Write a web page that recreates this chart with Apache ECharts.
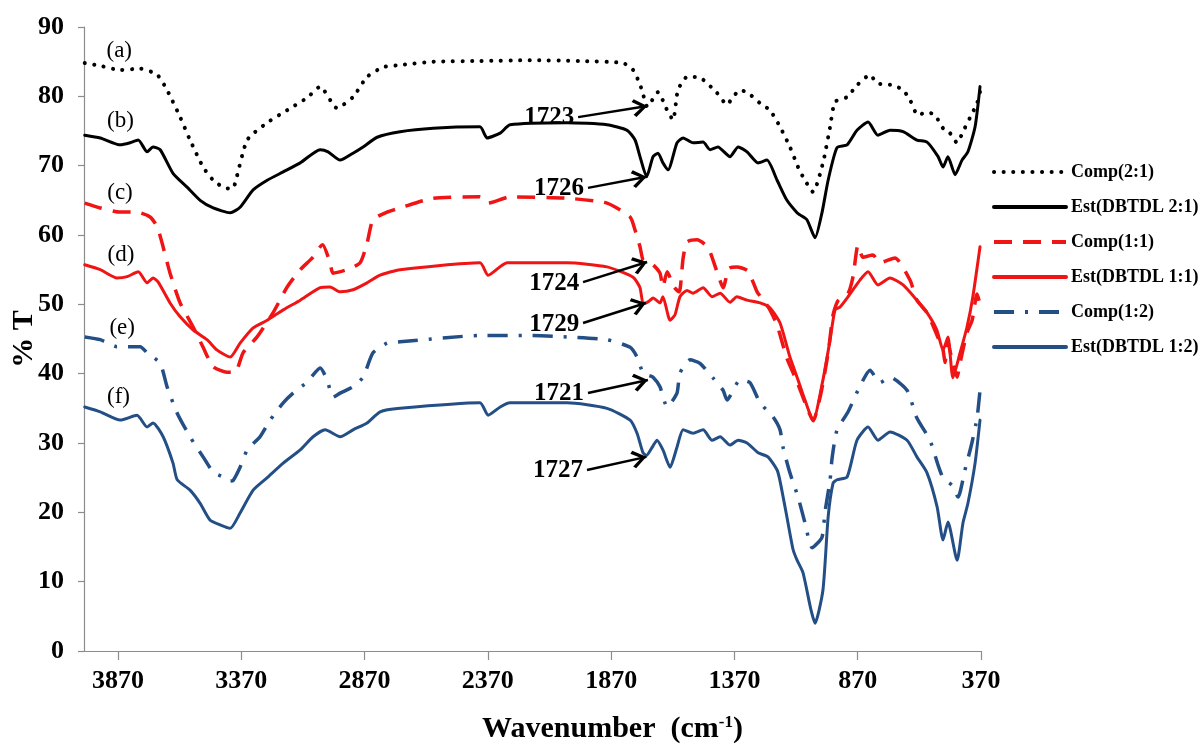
<!DOCTYPE html>
<html>
<head>
<meta charset="utf-8">
<script src="https://cdn.jsdelivr.net/npm/echarts@6/dist/echarts.min.js"></script>
<style>
  html, body { margin: 0; padding: 0; background: #ffffff; }
  #chart { width: 1198px; height: 745px; }
</style>
</head>
<body>
<div id="chart"></div>
<script>
// FT-IR spectra: wavenumber (cm-1) vs. transmittance (%T)

const wavenumberTicks = [370, 870, 1370, 1870, 2370, 2870, 3370, 3870];

const seriesNames = ['Comp(2:1)', 'Est(DBTDL 2:1)', 'Comp(1:1)', 'Est(DBTDL 1:1)', 'Comp(1:2)', 'Est(DBTDL 1:2)'];
const curveTags = ['(a)', '(b)', '(c)', '(d)', '(e)', '(f)'];

// [wavenumber, %T]
const compA = [
  [4005,84.8],[3942,84.4],[3861,83.8],[3780,84.0],[3711,83.1],[3671,80.9],[3618,77.0],[3578,73.7],
  [3525,69.8],[3484,67.9],[3440,66.8],[3415,66.7],[3400,66.9],[3346,73.7],[3265,76.2],[3184,78.0],
  [3103,79.8],[3050,81.4],[2982,78.3],[2917,79.9],[2860,82.8],[2795,84.2],[2726,84.5],[2590,85.0],
  [2400,85.1],[2200,85.2],[2000,85.1],[1822,84.8],[1781,83.8],[1761,82.4],[1745,80.9],[1723,78.5],
  [1680,80.6],[1643,78.0],[1619,76.6],[1599,80.9],[1562,82.8],[1522,82.8],[1497,82.4],[1441,80.5],
  [1400,78.8],[1376,79.9],[1347,80.9],[1315,80.5],[1266,79.0],[1226,78.0],[1185,75.6],[1145,72.7],
  [1112,69.8],[1092,68.4],[1051,66.2],[1011,70.4],[982,75.6],[962,79.2],[913,79.9],[873,81.6],
  [820,83.1],[792,81.9],[727,81.6],[686,80.9],[658,79.5],[626,77.3],[589,77.7],[557,77.3],
  [524,75.4],[496,74.7],[467,73.3],[443,74.9],[415,76.9],[386,79.0],[372,81.0]
];
const estA = [
  [4005,74.4],[3942,74.0],[3861,73.0],[3821,73.3],[3788,73.7],[3752,72.0],[3728,72.7],[3699,72.3],
  [3647,68.9],[3590,66.9],[3537,65.0],[3484,63.9],[3415,63.2],[3375,64.0],[3322,66.5],[3265,67.9],
  [3200,69.1],[3131,70.4],[3050,72.3],[3018,72.0],[2969,70.8],[2917,71.8],[2876,72.7],[2819,74.1],
  [2726,74.9],[2592,75.4],[2402,75.6],[2373,74.0],[2320,74.7],[2280,75.9],[2049,76.2],[1887,75.9],
  [1805,75.1],[1773,73.7],[1753,71.3],[1726,68.4],[1700,71.3],[1680,71.8],[1660,70.4],[1639,69.4],
  [1603,73.3],[1578,74.0],[1538,73.3],[1497,73.4],[1469,72.3],[1437,72.7],[1388,71.3],[1355,72.7],
  [1319,72.0],[1274,70.4],[1238,70.8],[1197,67.9],[1157,65.0],[1116,63.2],[1104,62.9],[1076,62.2],
  [1043,59.6],[1015,63.2],[990,67.9],[954,72.6],[913,73.0],[873,75.1],[828,76.3],[788,74.4],
  [739,75.1],[686,74.9],[630,73.7],[589,73.4],[544,71.3],[524,69.8],[504,71.3],[475,68.7],
  [447,70.8],[423,72.0],[394,75.6],[374,81.4]
];
const compB = [
  [4005,64.6],[3942,63.9],[3861,63.3],[3793,63.3],[3740,62.6],[3711,61.2],[3691,58.8],[3659,54.5],
  [3618,50.2],[3565,46.7],[3525,43.8],[3484,41.0],[3428,40.2],[3395,40.2],[3363,43.0],[3306,45.3],
  [3241,48.8],[3184,52.5],[3131,55.0],[3079,56.8],[3050,58.3],[3040,58.6],[3010,56.0],[2998,54.5],
  [2941,55.0],[2888,56.0],[2860,58.8],[2836,62.2],[2779,63.3],[2726,63.9],[2592,65.3],[2402,65.5],
  [2369,64.6],[2280,65.5],[2049,65.3],[1887,64.6],[1793,62.6],[1773,60.7],[1753,58.3],[1741,56.4],
  [1724,56.1],[1700,55.7],[1672,54.5],[1660,52.5],[1643,54.7],[1615,52.5],[1594,51.8],[1578,56.7],
  [1562,59.0],[1522,59.3],[1477,58.2],[1437,54.3],[1416,52.4],[1392,55.2],[1360,55.4],[1315,54.8],
  [1278,51.8],[1246,50.3],[1226,49.2],[1197,47.0],[1157,42.2],[1116,38.8],[1080,35.5],[1051,33.2],
  [1020,37.0],[990,43.0],[970,48.5],[950,50.5],[909,51.6],[889,54.0],[869,58.5],[849,56.8],
  [808,57.1],[780,56.0],[719,56.7],[658,53.5],[630,50.6],[589,48.8],[548,45.5],[524,43.4],
  [516,41.6],[504,44.5],[488,42.0],[467,39.5],[455,41.5],[427,45.9],[406,47.7],[386,51.5],[374,50.0]
];
const estB = [
  [4005,55.7],[3942,55.0],[3874,53.8],[3833,54.0],[3788,54.7],[3752,53.1],[3728,53.8],[3707,53.2],
  [3659,50.2],[3618,48.2],[3565,46.3],[3509,44.9],[3468,43.4],[3415,42.4],[3375,44.4],[3322,46.6],
  [3265,47.7],[3200,49.2],[3131,50.6],[3050,52.4],[3010,52.5],[2969,51.8],[2917,52.1],[2860,53.1],
  [2807,54.2],[2726,55.0],[2402,56.0],[2369,54.2],[2292,56.0],[2049,56.0],[1887,55.4],[1781,53.9],
  [1753,52.4],[1741,50.2],[1729,50.2],[1715,50.5],[1700,50.9],[1672,50.2],[1660,51.1],[1631,47.7],
  [1611,48.5],[1591,51.1],[1562,52.0],[1538,51.6],[1497,52.4],[1461,51.1],[1428,51.6],[1388,50.3],
  [1360,51.1],[1319,50.6],[1266,50.2],[1226,49.5],[1185,47.3],[1145,42.4],[1112,39.1],[1084,36.2],
  [1051,33.2],[1011,39.1],[982,44.9],[962,49.2],[942,49.6],[909,51.1],[861,53.5],[828,54.7],
  [788,52.8],[739,53.8],[686,52.8],[630,50.6],[589,48.8],[549,46.3],[524,43.4],[504,45.3],
  [484,39.4],[455,43.0],[427,46.7],[403,51.1],[374,58.3]
];
const compC = [
  [4005,45.3],[3942,44.9],[3874,43.9],[3780,43.9],[3752,43.0],[3699,41.5],[3671,38.1],[3630,34.3],
  [3578,30.9],[3525,28.0],[3484,25.8],[3444,25.1],[3415,24.5],[3403,24.6],[3375,26.5],[3346,29.0],
  [3294,30.9],[3253,33.3],[3200,35.8],[3160,37.2],[3103,38.8],[3050,40.8],[3022,39.1],[2998,36.6],
  [2969,37.2],[2917,38.1],[2876,39.5],[2836,43.0],[2779,44.4],[2726,44.6],[2400,45.5],[2200,45.5],
  [2049,45.3],[1887,44.9],[1793,43.8],[1765,42.4],[1741,40.1],[1721,39.8],[1700,39.5],[1672,38.1],
  [1643,35.2],[1603,37.2],[1591,40.1],[1550,42.0],[1510,41.5],[1457,39.4],[1416,37.6],[1400,36.2],
  [1347,39.1],[1307,38.7],[1266,35.8],[1214,33.8],[1185,31.9],[1173,29.4],[1145,25.7],[1112,22.2],
  [1084,18.5],[1055,14.9],[1015,16.4],[1003,20.0],[982,24.7],[974,27.8],[954,31.9],[909,34.5],
  [869,37.6],[820,40.5],[780,38.7],[739,39.5],[670,37.6],[630,33.6],[577,30.4],[544,26.8],
  [524,25.0],[488,23.9],[463,22.2],[435,26.1],[407,30.0],[386,33.6],[374,37.6]
];
const estC = [
  [4005,35.2],[3942,34.5],[3861,33.3],[3793,34.0],[3752,32.3],[3728,32.9],[3687,30.9],[3647,27.1],
  [3630,24.7],[3578,23.2],[3537,21.3],[3497,18.9],[3456,18.2],[3415,17.7],[3375,19.9],[3322,23.2],
  [3265,25.0],[3200,27.1],[3131,29.0],[3079,30.9],[3030,31.9],[2969,30.9],[2917,31.9],[2860,32.9],
  [2807,34.5],[2726,35.0],[2402,35.8],[2369,34.0],[2320,35.2],[2280,35.8],[2049,35.8],[1887,35.0],
  [1793,33.3],[1765,31.4],[1741,28.6],[1727,28.2],[1700,29.6],[1684,30.4],[1660,29.0],[1631,26.5],
  [1603,29.4],[1578,31.9],[1538,31.4],[1497,31.9],[1461,30.4],[1428,30.9],[1388,29.7],[1355,30.4],
  [1319,30.0],[1274,28.6],[1234,28.0],[1197,26.1],[1185,24.5],[1157,19.3],[1132,14.6],[1116,13.1],
  [1092,11.3],[1060,6.0],[1043,4.0],[1011,8.8],[990,19.3],[970,24.2],[954,24.7],[913,25.1],
  [873,30.4],[828,32.3],[788,30.4],[739,31.6],[670,30.4],[630,28.0],[589,25.7],[548,20.8],
  [524,16.0],[504,18.6],[467,13.1],[443,18.5],[423,21.3],[394,27.1],[374,33.3]
];

// carbonyl band call-outs: label = wavenumber the arrow points at
const noteSeries = [0, 1, 2, 3, 4, 5];
const noteWavenumbers = [1723, 1726, 1724, 1729, 1721, 1727];
const noteTargets = [78.6, 68.4, 56.1, 50.2, 39.1, 28.0];
const noteTails = [[2004, 77.0], [1964, 66.8], [1984, 53.2], [1984, 47.3], [1964, 37.2], [1968, 26.1]];

// curve letter tags, placed in data units
const tagCoords = [[3865, 86.5], [3860, 76.4], [3862, 66.0], [3858, 57.1], [3853, 46.6], [3868, 36.6]];

const spectra = [compA, estA, compB, estB, compC, estC];

const SERIF = "'Liberation Serif', 'Times New Roman', serif";
const RED = '#f01414';
const BLUE = '#234f86';

const styles = [
  { color: '#000000', width: 4, type: [0.1, 9.5], cap: 'round' },
  { color: '#000000', width: 3, type: 'solid', cap: 'round' },
  { color: RED, width: 3.5, type: [18, 11], cap: 'butt' },
  { color: RED, width: 3, type: 'solid', cap: 'round' },
  { color: BLUE, width: 3.5, type: [20, 11, 3, 11], cap: 'butt' },
  { color: BLUE, width: 3, type: 'solid', cap: 'round' }
];

// open chevron arrow head; tip sits at the symbol centre
const ARROW = 'path://M50,0 L100,60 L86,72 L50,26 L14,72 L0,60 Z M50,-72 L50,-72';

const series = spectra.map(function (data, i) {
  const st = styles[i];
  const s = {
    name: seriesNames[i],
    type: 'line',
    data: data,
    showSymbol: false,
    symbol: 'none',
    smooth: 0.2,
    color: st.color,
    lineStyle: { color: st.color, width: st.width, type: st.type, cap: st.cap, join: 'round' },
    emphasis: { disabled: true },
    markPoint: {
      silent: true,
      symbol: 'circle',
      symbolSize: 2,
      itemStyle: { color: 'rgba(0,0,0,0)' },
      label: {
        show: true, position: 'inside', color: '#000',
        fontFamily: SERIF, fontSize: 23, fontWeight: 'normal',
        formatter: curveTags[i]
      },
      data: [{ coord: tagCoords[i], value: curveTags[i] }]
    }
  };
  const k = noteSeries.indexOf(i);
  if (k >= 0) {
    s.markLine = {
      silent: true,
      animation: false,
      symbol: ['none', ARROW],
      symbolSize: [18, 30],
      lineStyle: { color: '#000', width: 2.5, type: 'solid' },
      label: {
        show: true, position: 'start', distance: 4, color: '#000',
        fontFamily: SERIF, fontSize: 25, fontWeight: 'bold',
        formatter: String(noteWavenumbers[k])
      },
      data: [[
        { coord: noteTails[k] },
        { coord: [noteWavenumbers[k], noteTargets[k]] }
      ]]
    };
  }
  return s;
});

const chart = echarts.init(document.getElementById('chart'), null, { renderer: 'canvas' });
chart.setOption({
  animation: false,
  backgroundColor: '#ffffff',
  grid: { left: 84, right: 217, top: 27, bottom: 94, containLabel: false, outerBoundsMode: 'none' },
  legend: {
    orient: 'vertical',
    left: 987,
    top: 158,
    itemWidth: 72,
    itemHeight: 18,
    itemGap: 17,
    data: seriesNames,
    itemStyle: { opacity: 0, borderWidth: 0 },
    lineStyle: { width: 4 },
    textStyle: { fontFamily: SERIF, fontSize: 18, fontWeight: 'bold', color: '#000' }
  },
  xAxis: {
    type: 'value',
    inverse: true,
    min: 370,
    max: 4008,
    name: '{b|Wavenumber  (cm}{s|-1}{b|)}',
    nameLocation: 'middle',
    nameGap: 63,
    nameTextStyle: {
      padding: [0, 0, 0, 160],
      rich: {
        b: { fontFamily: SERIF, fontSize: 30, fontWeight: 'bold', color: '#000' },
        s: { fontFamily: SERIF, fontSize: 17, fontWeight: 'bold', color: '#000', verticalAlign: 'top', padding: [0, 0, 10, 0] }
      }
    },
    axisLine: { show: true, lineStyle: { color: '#8c8c8c', width: 1.2 } },
    axisTick: { show: true, length: 9, inside: false, customValues: wavenumberTicks, lineStyle: { color: '#8c8c8c', width: 1.2 } },
    axisLabel: {
      customValues: wavenumberTicks,
      margin: 17,
      formatter: function (v) { return String(v); },
      fontFamily: SERIF, fontSize: 26, fontWeight: 'bold', color: '#000'
    },
    splitLine: { show: false }
  },
  yAxis: {
    type: 'value',
    min: 0,
    max: 90,
    interval: 10,
    name: '% T',
    nameLocation: 'middle',
    nameGap: 45,
    nameMoveOverlap: false,
    nameTextStyle: { fontFamily: SERIF, fontSize: 30, fontWeight: 'bold', color: '#000' },
    axisLine: { show: true, lineStyle: { color: '#8c8c8c', width: 1.2 } },
    axisTick: { show: true, length: 6, inside: false, lineStyle: { color: '#8c8c8c', width: 1.2 } },
    axisLabel: { margin: 20, formatter: function (v) { return String(v); }, fontFamily: SERIF, fontSize: 26, fontWeight: 'bold', color: '#000' },
    splitLine: { show: false }
  },
  series: series
});
</script>
</body>
</html>
